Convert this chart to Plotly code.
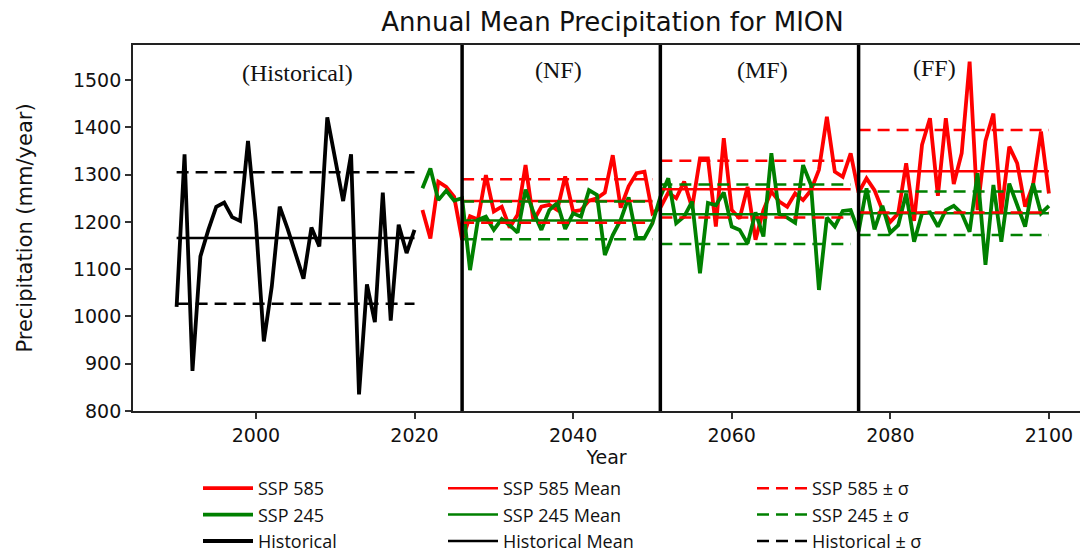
import plotly.graph_objects as go

# ---------------- data ----------------
hist_years = list(range(1990, 2021))
hist_precip = [1020, 1343, 885, 1127, 1183, 1232, 1241, 1210, 1202, 1371,
               1197, 947, 1063, 1232, 1185, 1135, 1080, 1188, 1148, 1421,
               1332, 1244, 1343, 835, 1068, 988, 1262, 991, 1194, 1134, 1183]

future_years = list(range(2021, 2101))
ssp585 = [1225, 1165, 1285, 1274, 1253,
          1162, 1212, 1205, 1299, 1222, 1232, 1188, 1215, 1320, 1202,
          1232, 1236, 1225, 1296, 1222, 1225, 1245, 1250, 1262, 1341,
          1230, 1275, 1303, 1306, 1218,
          1230, 1262, 1250, 1285, 1230, 1334, 1334, 1190, 1377, 1225,
          1207, 1274, 1162, 1225, 1264, 1243, 1232, 1260, 1246, 1267,
          1310, 1422, 1306, 1295, 1345,
          1262, 1292, 1267, 1225, 1200, 1218, 1324, 1202, 1363, 1419,
          1255, 1419, 1280, 1345, 1539, 1225, 1371, 1429, 1220, 1359,
          1324, 1232, 1278, 1391, 1260]
ssp245 = [1271, 1313, 1246, 1266, 1245,
          1250, 1098, 1204, 1211, 1183, 1206, 1193, 1177, 1268, 1220,
          1183, 1225, 1240, 1185, 1218, 1211, 1267, 1257, 1130, 1172,
          1204, 1252, 1166, 1166, 1197,
          1253, 1292, 1197, 1211, 1243, 1091, 1240, 1235, 1262, 1190,
          1183, 1154, 1220, 1169, 1345, 1216, 1209, 1198, 1320, 1278,
          1056, 1209, 1190, 1223, 1225,
          1180, 1271, 1184, 1234, 1177, 1193, 1260, 1158, 1218, 1220,
          1190, 1225, 1234, 1218, 1179, 1303, 1109, 1278, 1158, 1281,
          1236, 1190, 1281, 1218, 1234]

hist_mean = 1166
hist_std = 139

period_labels = ["(NF)", "(MF)", "(FF)"]
period_start = [2026, 2051, 2076]
period_end = [2050, 2075, 2100]
ssp585_mean = [1244, 1269, 1307]
ssp585_std = [46, 60, 87]
ssp245_mean = [1203, 1216, 1218]
ssp245_std = [40, 63, 46]

x_ticks = [2000, 2020, 2040, 2060, 2080, 2100]
y_ticks = [800, 900, 1000, 1100, 1200, 1300, 1400, 1500]

RED = "#ff0000"
GREEN = "#008000"
BLACK = "#000000"


def seg_lines(starts, ends, levels):
    xs, ys = [], []
    for s, e, v in zip(starts, ends, levels):
        xs += [s, e, None]
        ys += [v, v, None]
    return xs, ys


def band_lines(starts, ends, means, stds):
    xs, ys = [], []
    for s, e, m, sd in zip(starts, ends, means, stds):
        xs += [s, e, None, s, e, None]
        ys += [m + sd, m + sd, None, m - sd, m - sd, None]
    return xs, ys


fig = go.Figure()

DASH = "12px,7px"

# data lines
fig.add_trace(go.Scatter(x=future_years, y=ssp585, mode="lines", name="SSP 585",
                         line=dict(color=RED, width=3.8), legend="legend"))
fig.add_trace(go.Scatter(x=future_years, y=ssp245, mode="lines", name="SSP 245",
                         line=dict(color=GREEN, width=3.8), legend="legend"))
fig.add_trace(go.Scatter(x=hist_years, y=hist_precip, mode="lines", name="Historical",
                         line=dict(color=BLACK, width=3.8), legend="legend"))

# means
mx, my = seg_lines(period_start, period_end, ssp585_mean)
fig.add_trace(go.Scatter(x=mx, y=my, mode="lines", name="SSP 585 Mean",
                         line=dict(color=RED, width=2.5), legend="legend2"))
mx, my = seg_lines(period_start, period_end, ssp245_mean)
fig.add_trace(go.Scatter(x=mx, y=my, mode="lines", name="SSP 245 Mean",
                         line=dict(color=GREEN, width=2.5), legend="legend2"))
mx, my = seg_lines([hist_years[0]], [hist_years[-1]], [hist_mean])
fig.add_trace(go.Scatter(x=mx, y=my, mode="lines", name="Historical Mean",
                         line=dict(color=BLACK, width=2.5), legend="legend2"))

# +/- sigma
bx, by = band_lines(period_start, period_end, ssp585_mean, ssp585_std)
fig.add_trace(go.Scatter(x=bx, y=by, mode="lines", name="SSP 585 ± σ",
                         line=dict(color=RED, width=2.5, dash=DASH), legend="legend3"))
bx, by = band_lines(period_start, period_end, ssp245_mean, ssp245_std)
fig.add_trace(go.Scatter(x=bx, y=by, mode="lines", name="SSP 245 ± σ",
                         line=dict(color=GREEN, width=2.5, dash=DASH), legend="legend3"))
bx, by = band_lines([hist_years[0]], [hist_years[-1]], [hist_mean], [hist_std])
fig.add_trace(go.Scatter(x=bx, y=by, mode="lines", name="Historical ± σ",
                         line=dict(color=BLACK, width=2.5, dash=DASH), legend="legend3"))

# period boundaries
for s in period_start:
    fig.add_shape(type="line", xref="x", yref="paper", x0=s, x1=s, y0=0, y1=1,
                  line=dict(color=BLACK, width=3.5), layer="above")

# period labels
label_font = dict(family="Liberation Serif, Times New Roman, serif", size=24, color="#111111")
fig.add_annotation(x=2005.3, y=1515, xref="x", yref="y", text="(Historical)",
                   showarrow=False, font=label_font)
for lab, xpos, ypos in zip(period_labels, [2038.2, 2063.9, 2085.6], [1521, 1521, 1525]):
    fig.add_annotation(x=xpos, y=ypos, xref="x", yref="y", text=lab,
                       showarrow=False, font=label_font)

W, H = 1080, 552
L, R, T, B = 133, 0, 45, 141
pw = W - L - R
ph = H - T - B


def px_to_paper_x(px):
    return (px - L) / pw


def px_to_paper_y(py):
    return (H - B - py) / ph


legend_common = dict(orientation="v", yanchor="top", xanchor="left",
                     y=px_to_paper_y(470), bgcolor="rgba(0,0,0,0)",
                     font=dict(family="Open Sans, sans-serif", size=18, color="#111111"),
                     itemwidth=50, tracegroupgap=0)

fig.update_layout(
    width=W, height=H,
    margin=dict(l=L, r=R, t=T, b=B, pad=0, autoexpand=False),
    paper_bgcolor="white", plot_bgcolor="white",
    title=dict(text="Annual Mean Precipitation for MION", x=(L + 1092) / 2 / W, xanchor="center",
               y=1 - 22 / H, yanchor="middle",
               font=dict(family="DejaVu Sans", size=26, color="#111111")),
    xaxis=dict(range=[1984.5, 1984.5 + pw / 7.93], tickvals=x_ticks,
               ticks="outside", ticklen=6, tickwidth=1.5, tickcolor="#333",
               showline=True, linecolor="#222", linewidth=1.8, mirror=True,
               showgrid=False, zeroline=False, automargin=False,
               tickfont=dict(family="DejaVu Sans", size=19, color="#111111"),
               title=dict(text="Year", font=dict(family="DejaVu Sans", size=19, color="#111111"),
                          standoff=6)),
    yaxis=dict(range=[800, 1574], tickvals=y_ticks,
               ticks="outside", ticklen=6, tickwidth=1.5, tickcolor="#333",
               showline=True, linecolor="#222", linewidth=1.8, mirror=False,
               showgrid=False, zeroline=False, automargin=False,
               tickfont=dict(family="DejaVu Sans", size=19, color="#111111"),
               title=dict(text="Precipitation (mm/year)",
                          font=dict(family="DejaVu Sans", size=21, color="#111111"),
                          standoff=35)),
    legend=dict(x=px_to_paper_x(198), **legend_common),
    legend2=dict(x=px_to_paper_x(443), **legend_common),
    legend3=dict(x=px_to_paper_x(752), **legend_common),
    showlegend=True,
)

fig.write_html("out.html", config={"displayModeBar": False},
               post_script="document.body.style.margin='0px';document.body.style.overflow='hidden';")
